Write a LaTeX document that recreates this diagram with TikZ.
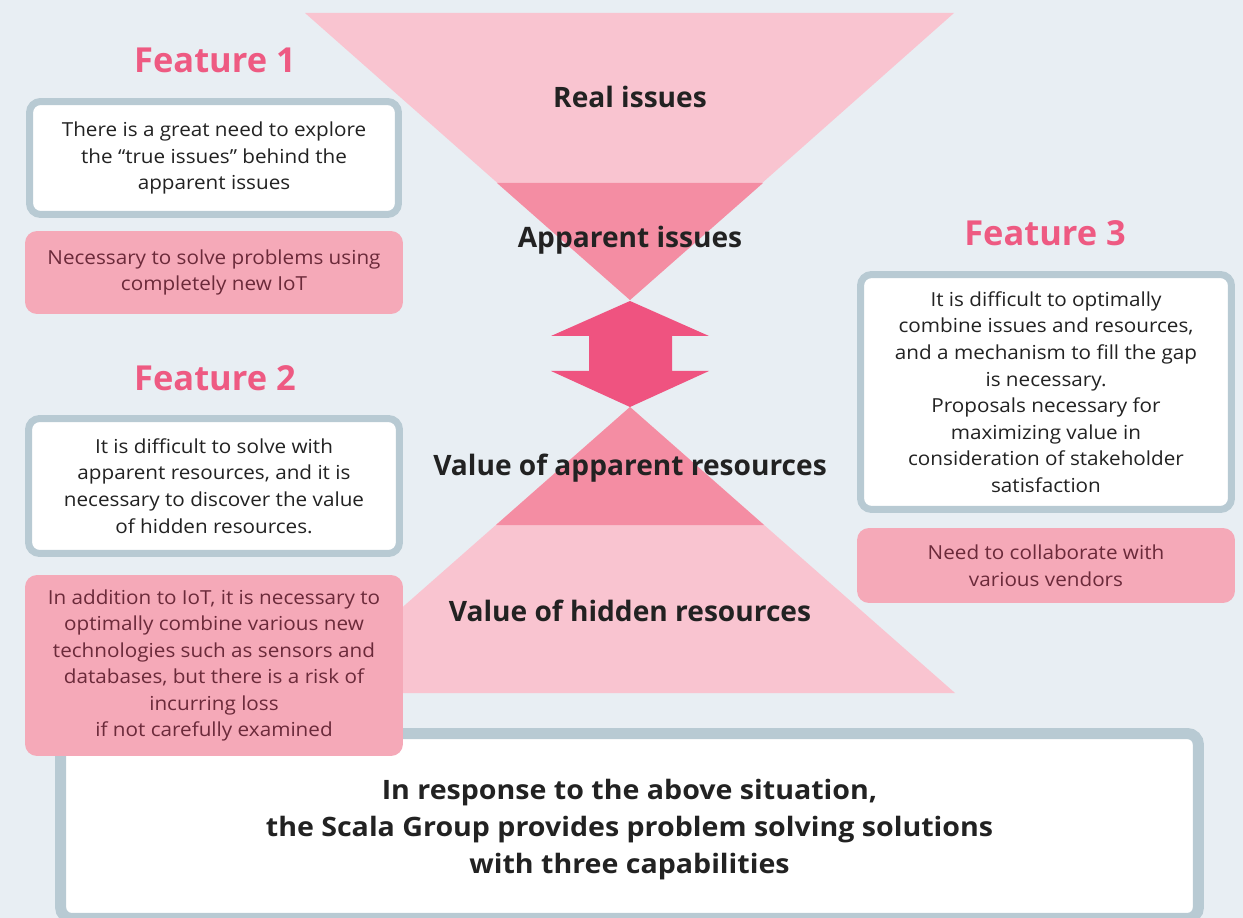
\documentclass[tikz,border=0pt]{standalone}
\usepackage{fontspec}
\setmainfont{Open Sans}
\newfontfamily\widefont{Open Sans}[FakeStretch=1.07]
\usetikzlibrary{positioning}

\definecolor{bgcol}{HTML}{E8EEF3}
\definecolor{lightpink}{HTML}{F9C4D0}
\definecolor{midpink}{HTML}{F48DA3}
\definecolor{arrowpink}{HTML}{EF5380}
\definecolor{headpink}{HTML}{EE5A82}
\definecolor{framegray}{HTML}{B8CAD3}
\definecolor{notepink}{HTML}{F5A9B8}
\definecolor{notetext}{HTML}{6B2A3A}
\definecolor{bodytext}{HTML}{222222}

\newcommand{\feature}[3]{\node[featlabel] (feat#1) at (#2,#3) {Feature #1};}
\newcommand{\level}[4]{\node[levellabel] (#1) at (#2,#3) {#4};}

\begin{document}
\begin{tikzpicture}[x=0.02cm, y=-0.02cm,
    featlabel/.style={font=\fontsize{19.6}{24}\selectfont\bfseries, text=headpink},
    levellabel/.style={font=\fontsize{16}{20}\selectfont\bfseries, text=bodytext},
    whitebox/.style={draw=framegray, line width=0.14cm, fill=white, rounded corners=0.22cm,
      align=center, text=bodytext, font=\widefont\fontsize{11}{15.1}\selectfont, inner sep=0pt},
    notebox/.style={fill=notepink, rounded corners=0.24cm, align=center, text=notetext,
      font=\widefont\fontsize{11}{15.1}\selectfont, inner sep=0pt}]

  % background
  \fill[bgcol] (0,0) rectangle (1243,918);
  \useasboundingbox (0,0) rectangle (1243,918);
  \clip (0,0) rectangle (1243,918);

  % Funnel
  % ------
  \fill[lightpink] (305,13) -- (954,13) -- (630,300) -- cycle;
  \fill[midpink] (497,183) -- (763,183) -- (630,300) -- cycle;

  \fill[arrowpink] (630,301) -- (709,336) -- (672,336) -- (672,371) -- (709,371)
    -- (630,407) -- (551,371) -- (589,371) -- (589,336) -- (551,336) -- cycle;

  \fill[lightpink] (630,407) -- (955,693) -- (305,693) -- cycle;
  \fill[midpink] (630,407) -- (764,525) -- (496,525) -- cycle;

  \level{real}{630}{97}{Real issues}
  \level{apparent}{630}{240}{Apparent issues}
  \level{appres}{630}{468}{Value of apparent resources}
  \level{hidres}{630}{611}{Value of hidden resources}

  % Conclusion
  % ----------
  \node[whitebox, line width=0.22cm, minimum width=22.76cm, minimum height=3.7cm,
    font=\widefont\fontsize{15.2}{21}\selectfont\bfseries] (answer) at (629.5,826)
    {\rule{0pt}{0.56cm}In response to the above situation,\\
     the Scala Group provides problem solving solutions\\
     with three capabilities};

  % Feature 1
  % ---------
  \feature{1}{215}{60}
  \node[whitebox, minimum width=7.38cm, minimum height=2.26cm] (need1) at (214,158)
    {There is a great need to explore\\
     the “true issues” behind the\\
     apparent issues};
  \node[notebox, minimum width=7.56cm, minimum height=1.66cm] (note1) at (214,272.5)
    {Necessary to solve problems using\\
     completely new IoT};

  % Feature 2
  % ---------
  \feature{2}{215}{378}
  \node[whitebox, minimum width=7.42cm, minimum height=2.7cm] (need2) at (214,486)
    {It is difficult to solve with\\
     apparent resources, and it is\\
     necessary to discover the value\\
     of hidden resources.};
  \node[notebox, minimum width=7.56cm, minimum height=3.62cm] (note2) at (214,665.5)
    {In addition to IoT, it is necessary to\\
     optimally combine various new\\
     technologies such as sensors and\\
     databases, but there is a risk of\\
     incurring loss\\
     if not carefully examined};

  % Feature 3
  % ---------
  \feature{3}{1045}{233}
  \node[whitebox, minimum width=7.42cm, minimum height=4.7cm] (need3) at (1046,392)
    {It is difficult to optimally\\
     combine issues and resources,\\
     and a mechanism to fill the gap\\
     is necessary.\\
     Proposals necessary for\\
     maximizing value in\\
     consideration of stakeholder\\
     satisfaction};
  \node[notebox, minimum width=7.56cm, minimum height=1.5cm] (note3) at (1046,565.5)
    {Need to collaborate with\\
     various vendors};

\end{tikzpicture}
\end{document}
